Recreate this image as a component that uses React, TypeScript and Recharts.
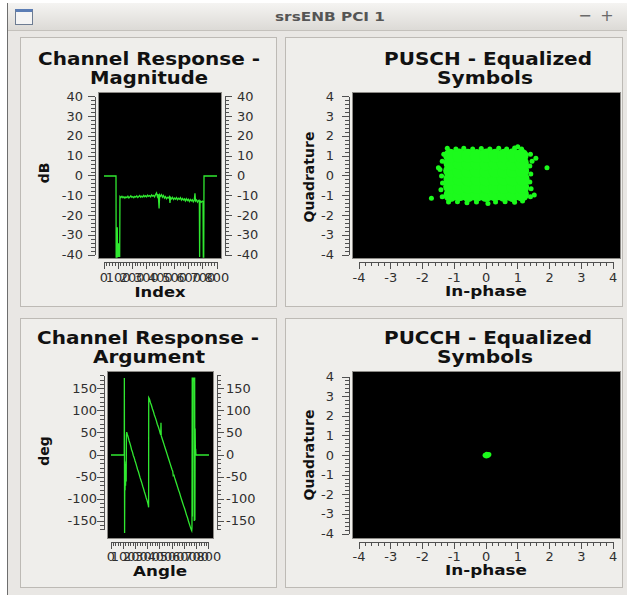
import React from 'react';
import { LineChart, Line, ScatterChart, Scatter, XAxis, YAxis } from 'recharts';

// values: [index, dB]
const magnitudeTrace: [number, number][] = [
  [0, 0], [85, 0], [86, -41], [92, -41], [94, -26], [96, -41], [102, -34], [104, -41], [108, -36], [111, -41],
  [113, -10.4], [120, -10.9], [127, -10.3], [134, -11.0], [141, -10.5], [148, -11.2], [155, -10.6], [162, -10.9],
  [169, -10.2], [176, -11.1], [183, -10.6], [190, -10.0], [197, -10.8], [204, -10.4], [211, -11.0], [218, -10.3],
  [225, -10.7], [232, -10.1], [239, -10.9], [246, -10.4], [253, -9.9], [260, -10.7], [267, -10.2], [274, -10.6],
  [281, -9.8], [288, -10.5], [295, -10.0], [302, -10.6], [309, -9.7], [316, -10.3], [323, -9.9], [330, -10.5],
  [337, -9.6], [344, -10.2], [351, -9.8], [358, -10.6], [365, -9.4], [372, -8.6], [378, -10.4], [384, -9.2],
  [390, -16.4], [394, -9.6], [400, -10.3], [407, -9.5], [414, -10.8], [421, -9.9], [428, -11.2], [435, -10.4],
  [442, -11.5], [449, -10.8], [456, -11.1], [463, -10.5], [467, -13.6], [471, -10.9], [478, -11.6], [485, -10.8],
  [492, -11.9], [499, -11.2], [506, -11.7], [513, -10.9], [520, -12.0], [527, -11.3], [534, -11.8], [541, -11.0],
  [548, -12.2], [555, -11.4], [562, -12.1], [569, -11.6], [576, -12.6], [583, -11.5], [590, -12.4], [597, -11.8],
  [604, -12.9], [611, -11.9], [618, -12.6], [625, -12.0], [632, -13.1], [639, -12.2], [644, -8.8], [648, -12.7],
  [655, -12.1], [662, -13.2], [669, -12.4], [675, -12.8], [677, -41], [680, -12.6], [688, -13.3], [696, -12.7],
  [701, -13.0], [703, -41], [706, -41], [708, 0], [800, 0],
];

// [index, degrees]
const argumentTrace: [number, number][] = [
  [0, 0], [108, 0], [109, 175], [111, -177], [113, -15], [115, -80], [117, -20], [119, -70], [121, -30], [124, -60],
  [126, 45], [128, 52], [134, 46], [140, 41], [147, 33], [154, 27], [161, 20], [168, 12], [175, 7], [182, -1],
  [189, -6], [196, -13], [203, -19], [210, -26], [217, -33], [224, -38], [231, -45], [238, -52], [245, -58],
  [252, -64], [259, -71], [266, -77], [273, -84], [280, -90], [287, -97], [294, -103], [301, -110], [305, -115],
  [307, -119], [308, 130], [314, 127], [322, 119], [330, 113], [338, 105], [346, 99], [354, 91], [362, 85],
  [370, 78], [378, 70], [386, 64], [394, 57], [402, 49], [406, 46], [408, 73], [410, 44], [418, 37], [426, 30],
  [434, 23], [442, 16], [450, 9], [458, 2], [466, -5], [474, -12], [482, -19], [490, -26], [498, -33], [504, -37],
  [508, -47], [514, -46], [520, -52], [528, -59], [536, -66], [544, -73], [552, -80], [560, -86], [568, -94],
  [576, -101], [584, -108], [592, -115], [600, -121], [608, -128], [616, -136], [624, -142], [632, -150],
  [640, -157], [648, -164], [654, -169], [659, -172], [661, -165], [663, 176], [665, -140], [667, 176], [670, 168],
  [673, 176], [676, 170], [678, 176], [680, -150], [683, 176], [685, -148], [687, 60], [689, 8], [691, 14],
  [693, 2], [695, 0], [800, 0],
];

// PUSCH constellation: dense body (big dots) and the ragged rim / outliers (small dots)
const puschBody: [number, number][] = [
  [-1.12, -0.96], [-0.84, -0.93], [-0.56, -0.97], [-0.28, -0.94], [0.0, -0.96], [0.28, -0.93], [0.56, -0.95], [0.84, -0.97], [1.13, -0.94],
  [-1.13, -0.55], [-0.85, -0.57], [-0.57, -0.54], [-0.29, -0.56], [0.01, -0.55], [0.29, -0.53], [0.57, -0.56], [0.85, -0.54], [1.14, -0.56],
  [-1.12, -0.15], [-0.84, -0.13], [-0.56, -0.16], [-0.28, -0.14], [0.0, -0.16], [0.28, -0.15], [0.56, -0.13], [0.84, -0.16], [1.15, -0.14],
  [-1.13, 0.26], [-0.85, 0.24], [-0.57, 0.25], [-0.29, 0.27], [0.01, 0.24], [0.29, 0.26], [0.57, 0.24], [0.85, 0.25], [1.14, 0.27],
  [-1.12, 0.65], [-0.84, 0.67], [-0.56, 0.64], [-0.28, 0.66], [0.0, 0.64], [0.28, 0.66], [0.56, 0.65], [0.84, 0.63], [1.13, 0.66],
  [-1.13, 1.02], [-0.85, 1.04], [-0.57, 1.03], [-0.29, 1.01], [0.01, 1.04], [0.29, 1.02], [0.57, 1.03], [0.85, 1.05], [1.12, 1.03],
];
const puschRim: [number, number][] = [
  [-1.22, 1.4], [-0.95, 1.37], [-0.7, 1.41], [-0.42, 1.36], [-0.15, 1.39], [0.12, 1.37], [0.4, 1.4], [0.65, 1.36], [0.9, 1.42], [1.0, 1.48], [1.12, 1.36],
  [-1.18, -1.32], [-0.9, -1.3], [-0.6, -1.36], [-0.3, -1.31], [0.06, -1.39], [0.3, -1.32], [0.6, -1.3], [0.9, -1.33], [1.15, -1.27],
  [-1.38, -1.05], [-1.42, -0.7], [-1.37, -0.35], [-1.4, 0.0], [-1.5, 0.42], [-1.45, 0.33], [-1.38, 0.75], [-1.33, 1.1],
  [1.4, -1.05], [1.52, -0.96], [1.42, -0.65], [1.38, -0.3], [1.41, 0.1], [1.38, 0.5], [1.45, 0.75], [1.4, 1.1],
  [1.92, 0.42], [-1.72, -1.12], [1.57, 0.9],
];
const pucchPoints: [number, number][] = [
  [-0.03, 0.02], [0.02, 0.06], [0.06, 0.03], [0.09, 0.05], [0.01, -0.02], [0.05, 0.0],
];

const magYMajor = [-40, -30, -20, -10, 0, 10, 20, 30, 40];
const argYMajor = [-150, -100, -50, 0, 50, 100, 150];
const indexMajor = [0, 100, 200, 300, 400, 500, 600, 700, 800];
const iqMajor = [-4, -3, -2, -1, 0, 1, 2, 3, 4];

const GREEN_LINE = '#30e830';
const GREEN_DOT = '#1cfa1c';
const AXIS_INK = '#505050';
const LABEL_INK = '#2f2f2f';
const FONT = '"DejaVu Sans", Verdana, sans-serif';
const TICK_FS = 12;

const PAD = 50; // chart box reaches this far around the black canvas
const Y_W = 45;
const X_H = 30;
const GAP = 4; // space between canvas and axis backbone

type Rect = { x: number; y: number; w: number; h: number };
type Side = 'left' | 'right' | 'bottom';

function ticksBetween(from: number, to: number, step: number) {
  const out: number[] = [];
  for (let k = 0; from + k * step <= to + 1e-9; k++) out.push(Number((from + k * step).toFixed(4)));
  return out;
}

const magYTicks = ticksBetween(-40, 40, 2);
const argYTicks = ticksBetween(-170, 180, 10);
const indexTicks = ticksBetween(0, 800, 20);
const iqTicks = ticksBetween(-4, 4, 0.2);

// the screenshot is a little wider than tall; stretch numbers like it
const labelWidth = (s: string) =>
  [...s].reduce((w, ch) => w + (ch === '-' ? 0.361 : 0.636), 0) * TICK_FS * 1.08;

// Qwt-looking scale: backbone detached from the canvas, minor/major ticks, labels on majors only
function qwtTick(side: Side, edge: number, stepPx: number, majors: number[], first: number, labelOff: number) {
  return (props: any) => {
    const v: number = props.payload.value;
    const major = majors.some((m) => Math.abs(m - v) < 1e-6);
    const len = major ? 7 : 4;
    const isFirst = Math.abs(v - first) < 1e-6;
    const s = String(v);
    const txt = (x: number, y: number, anchor: 'start' | 'middle' | 'end') => (
      <text x={x} y={y} textAnchor={anchor} dominantBaseline="central" fontSize={TICK_FS} fill={LABEL_INK}
        fontFamily={FONT} textLength={labelWidth(s)} lengthAdjust="spacingAndGlyphs">
        {s}
      </text>
    );
    if (side === 'bottom') {
      const x = props.x;
      const b = edge + GAP;
      return (
        <g shapeRendering="crispEdges">
          {!isFirst && <line x1={x - stepPx} x2={x} y1={b} y2={b} stroke={AXIS_INK} />}
          <line x1={x} x2={x} y1={b} y2={b + len} stroke={AXIS_INK} />
          {major && txt(x, edge + labelOff, 'middle')}
        </g>
      );
    }
    const y = props.y;
    const dir = side === 'left' ? -1 : 1;
    const b = edge + dir * GAP;
    return (
      <g shapeRendering="crispEdges">
        {!isFirst && <line x1={b} x2={b} y1={y} y2={y + stepPx} stroke={AXIS_INK} />}
        <line x1={b} x2={b + dir * len} y1={y} y2={y} stroke={AXIS_INK} />
        {major && txt(edge + dir * labelOff, y, dir < 0 ? 'end' : 'start')}
      </g>
    );
  };
}

type AxisCfg = {
  canvas: Rect;
  xDomain: [number, number];
  yDomain: [number, number];
  xTicks: number[];
  xMajor: number[];
  yTicks: number[];
  yMajor: number[];
  right: boolean;
  off: { left: number; right: number; bottom: number };
};

function qwtAxes(c: AxisCfg) {
  const xStep = (c.canvas.w * (c.xTicks[1] - c.xTicks[0])) / (c.xDomain[1] - c.xDomain[0]);
  const yStep = (c.canvas.h * (c.yTicks[1] - c.yTicks[0])) / (c.yDomain[1] - c.yDomain[0]);
  const common = {
    type: 'number' as const,
    allowDataOverflow: true,
    tickLine: false,
    axisLine: false,
    tickSize: 0,
    tickMargin: 0,
    interval: 0 as const,
  };
  const list = [
    <XAxis key="x" dataKey="x" domain={c.xDomain} ticks={c.xTicks} height={X_H}
      tick={qwtTick('bottom', PAD + c.canvas.h, xStep, c.xMajor, c.xTicks[0], c.off.bottom)} {...common} />,
    <YAxis key="y" dataKey="y" domain={c.yDomain} ticks={c.yTicks} width={Y_W}
      tick={qwtTick('left', PAD, yStep, c.yMajor, c.yTicks[0], c.off.left)} {...common} />,
  ];
  if (c.right) {
    list.push(
      <YAxis key="yr" yAxisId="r" orientation="right" domain={c.yDomain} ticks={c.yTicks} width={Y_W}
        tick={qwtTick('right', PAD + c.canvas.w, yStep, c.yMajor, c.yTicks[0], c.off.right)} {...common} />,
    );
  }
  return list;
}

function chartFrame(c: AxisCfg) {
  return {
    width: c.canvas.w + 2 * PAD,
    height: c.canvas.h + 2 * PAD,
    margin: { top: PAD, bottom: PAD - X_H, left: PAD - Y_W, right: c.right ? PAD - Y_W : PAD },
  };
}

function Canvas({ r }: { r: Rect }) {
  return (
    <div style={{ position: 'absolute', left: r.x, top: r.y, width: r.w, height: r.h, background: '#000',
      boxShadow: '0 0 0 1px #8c8a86' }} />
  );
}

function TracePlot({ cfg, trace }: { cfg: AxisCfg; trace: [number, number][] }) {
  const rows = trace.map(([x, y]) => ({ x, y }));
  return (
    <>
      <Canvas r={cfg.canvas} />
      <div style={{ position: 'absolute', left: cfg.canvas.x - PAD, top: cfg.canvas.y - PAD }}>
        <LineChart {...chartFrame(cfg)} data={rows}>
          {qwtAxes(cfg)}
          <Line type="linear" dataKey="y" stroke={GREEN_LINE} strokeWidth={1.3} dot={false} isAnimationActive={false} />
        </LineChart>
      </div>
    </>
  );
}

const dot = (r: number) => (p: any) => <circle cx={p.cx} cy={p.cy} r={r} fill={GREEN_DOT} />;

function IQPlot({ cfg, body, rim }: { cfg: AxisCfg; body: [number, number][]; rim: [number, number][] }) {
  const toRows = (pts: [number, number][]) => pts.map(([x, y]) => ({ x, y }));
  return (
    <>
      <Canvas r={cfg.canvas} />
      <div style={{ position: 'absolute', left: cfg.canvas.x - PAD, top: cfg.canvas.y - PAD }}>
        <ScatterChart {...chartFrame(cfg)}>
          {qwtAxes(cfg)}
          {body.length > 0 && <Scatter data={toRows(body)} shape={dot(7)} isAnimationActive={false} />}
          <Scatter data={toRows(rim)} shape={dot(2.5)} isAnimationActive={false} />
        </ScatterChart>
      </div>
    </>
  );
}

const magCfg: AxisCfg = {
  canvas: { x: 99, y: 93, w: 122, h: 165 },
  xDomain: [-35.4, 828.3], yDomain: [-41.5, 42],
  xTicks: indexTicks, xMajor: indexMajor, yTicks: magYTicks, yMajor: magYMajor,
  right: true, off: { left: 16, right: 16, bottom: 20 },
};
const argCfg: AxisCfg = {
  canvas: { x: 108, y: 372, w: 105, h: 166 },
  xDomain: [-24.5, 832.7], yDomain: [-188.6, 188.6],
  xTicks: indexTicks, xMajor: indexMajor, yTicks: argYTicks, yMajor: argYMajor,
  right: true, off: { left: 11, right: 13, bottom: 19 },
};
const puschCfg: AxisCfg = {
  canvas: { x: 353, y: 93, w: 267, h: 165 },
  xDomain: [-4.19, 4.22], yDomain: [-4.15, 4.2],
  xTicks: iqTicks, xMajor: iqMajor, yTicks: iqTicks, yMajor: iqMajor,
  right: false, off: { left: 19, right: 0, bottom: 20 },
};
const pucchCfg: AxisCfg = {
  canvas: { x: 353, y: 372, w: 267, h: 166 },
  xDomain: [-4.19, 4.22], yDomain: [-4.2, 4.255],
  xTicks: iqTicks, xMajor: iqMajor, yTicks: iqTicks, yMajor: iqMajor,
  right: false, off: { left: 19, right: 0, bottom: 19 },
};

const panels: Rect[] = [
  { x: 20, y: 37, w: 257, h: 270 },
  { x: 285, y: 37, w: 338, h: 270 },
  { x: 20, y: 318, w: 257, h: 270 },
  { x: 285, y: 318, w: 338, h: 270 },
];

export default function App() {
  const title = (x: number, y: number, t: string, len: number) => (
    <text key={t + y} x={x} y={y} textAnchor="middle" fontSize={18} fontWeight="bold" fill="#111"
      textLength={len} lengthAdjust="spacingAndGlyphs">{t}</text>
  );
  const axisTitle = (x: number, y: number, t: string, len: number) => (
    <text key={t + y} x={x} y={y} textAnchor="middle" fontSize={14} fontWeight="bold" fill="#111"
      textLength={len} lengthAdjust="spacingAndGlyphs">{t}</text>
  );
  const vTitle = (x: number, y: number, t: string) => (
    <text key={t + y} x={x} y={y} textAnchor="middle" dominantBaseline="central" fontSize={14} fontWeight="bold"
      fill="#111" transform={`rotate(-90 ${x} ${y})`}>{t}</text>
  );
  return (
    <div style={{ position: 'absolute', left: 0, top: 0, width: 627, height: 595, overflow: 'hidden',
      background: '#ffffff', fontFamily: FONT }}>
      <div style={{ position: 'absolute', left: 7, top: 3, width: 640, height: 600, background: '#e9e7e4',
        borderLeft: '1px solid #6e6e6e' }} />
      <div style={{ position: 'absolute', left: 8, top: 3, width: 619, height: 27,
        background: 'linear-gradient(#f5f4f2, #dcdad6)', borderBottom: '1px solid #c4c1bc' }} />
      <div style={{ position: 'absolute', left: 15, top: 9, width: 16, height: 12, background: '#f4f4f4',
        border: '1px solid #6d7c92', borderTop: '3px solid #5b7db5' }} />
      {panels.map((p, i) => (
        <div key={i} style={{ position: 'absolute', left: p.x, top: p.y, width: p.w - 2, height: p.h - 2,
          background: '#efeeeb', border: '1px solid #bdbab5' }} />
      ))}
      <TracePlot cfg={magCfg} trace={magnitudeTrace} />
      <TracePlot cfg={argCfg} trace={argumentTrace} />
      <IQPlot cfg={puschCfg} body={puschBody} rim={puschRim} />
      <IQPlot cfg={pucchCfg} body={[]} rim={pucchPoints} />
      <svg width={627} height={595} style={{ position: 'absolute', left: 0, top: 0, pointerEvents: 'none' }}
        fontFamily={FONT}>
        <text x={330} y={21} textAnchor="middle" fontSize={13} fontWeight="bold" fill="#555"
          textLength={110} lengthAdjust="spacingAndGlyphs">srsENB PCI 1</text>
        <text x={585} y={21} textAnchor="middle" fontSize={16} fill="#6a6a6a">−</text>
        <text x={607} y={21} textAnchor="middle" fontSize={16} fill="#6a6a6a">+</text>
        {title(149, 65, 'Channel Response -', 222)}
        {title(149, 84, 'Magnitude', 118)}
        {title(488, 65, 'PUSCH - Equalized', 208)}
        {title(485, 84, 'Symbols', 96)}
        {title(148, 344, 'Channel Response -', 222)}
        {title(149, 363, 'Argument', 112)}
        {title(488, 344, 'PUCCH - Equalized', 208)}
        {title(485, 363, 'Symbols', 96)}
        {axisTitle(160, 297, 'Index', 51)}
        {axisTitle(486, 296, 'In-phase', 82)}
        {axisTitle(160, 576, 'Angle', 54)}
        {axisTitle(486, 575, 'In-phase', 82)}
        {vTitle(44, 173, 'dB')}
        {vTitle(309, 177, 'Quadrature')}
        {vTitle(44, 451, 'deg')}
        {vTitle(309, 455, 'Quadrature')}
      </svg>
    </div>
  );
}
